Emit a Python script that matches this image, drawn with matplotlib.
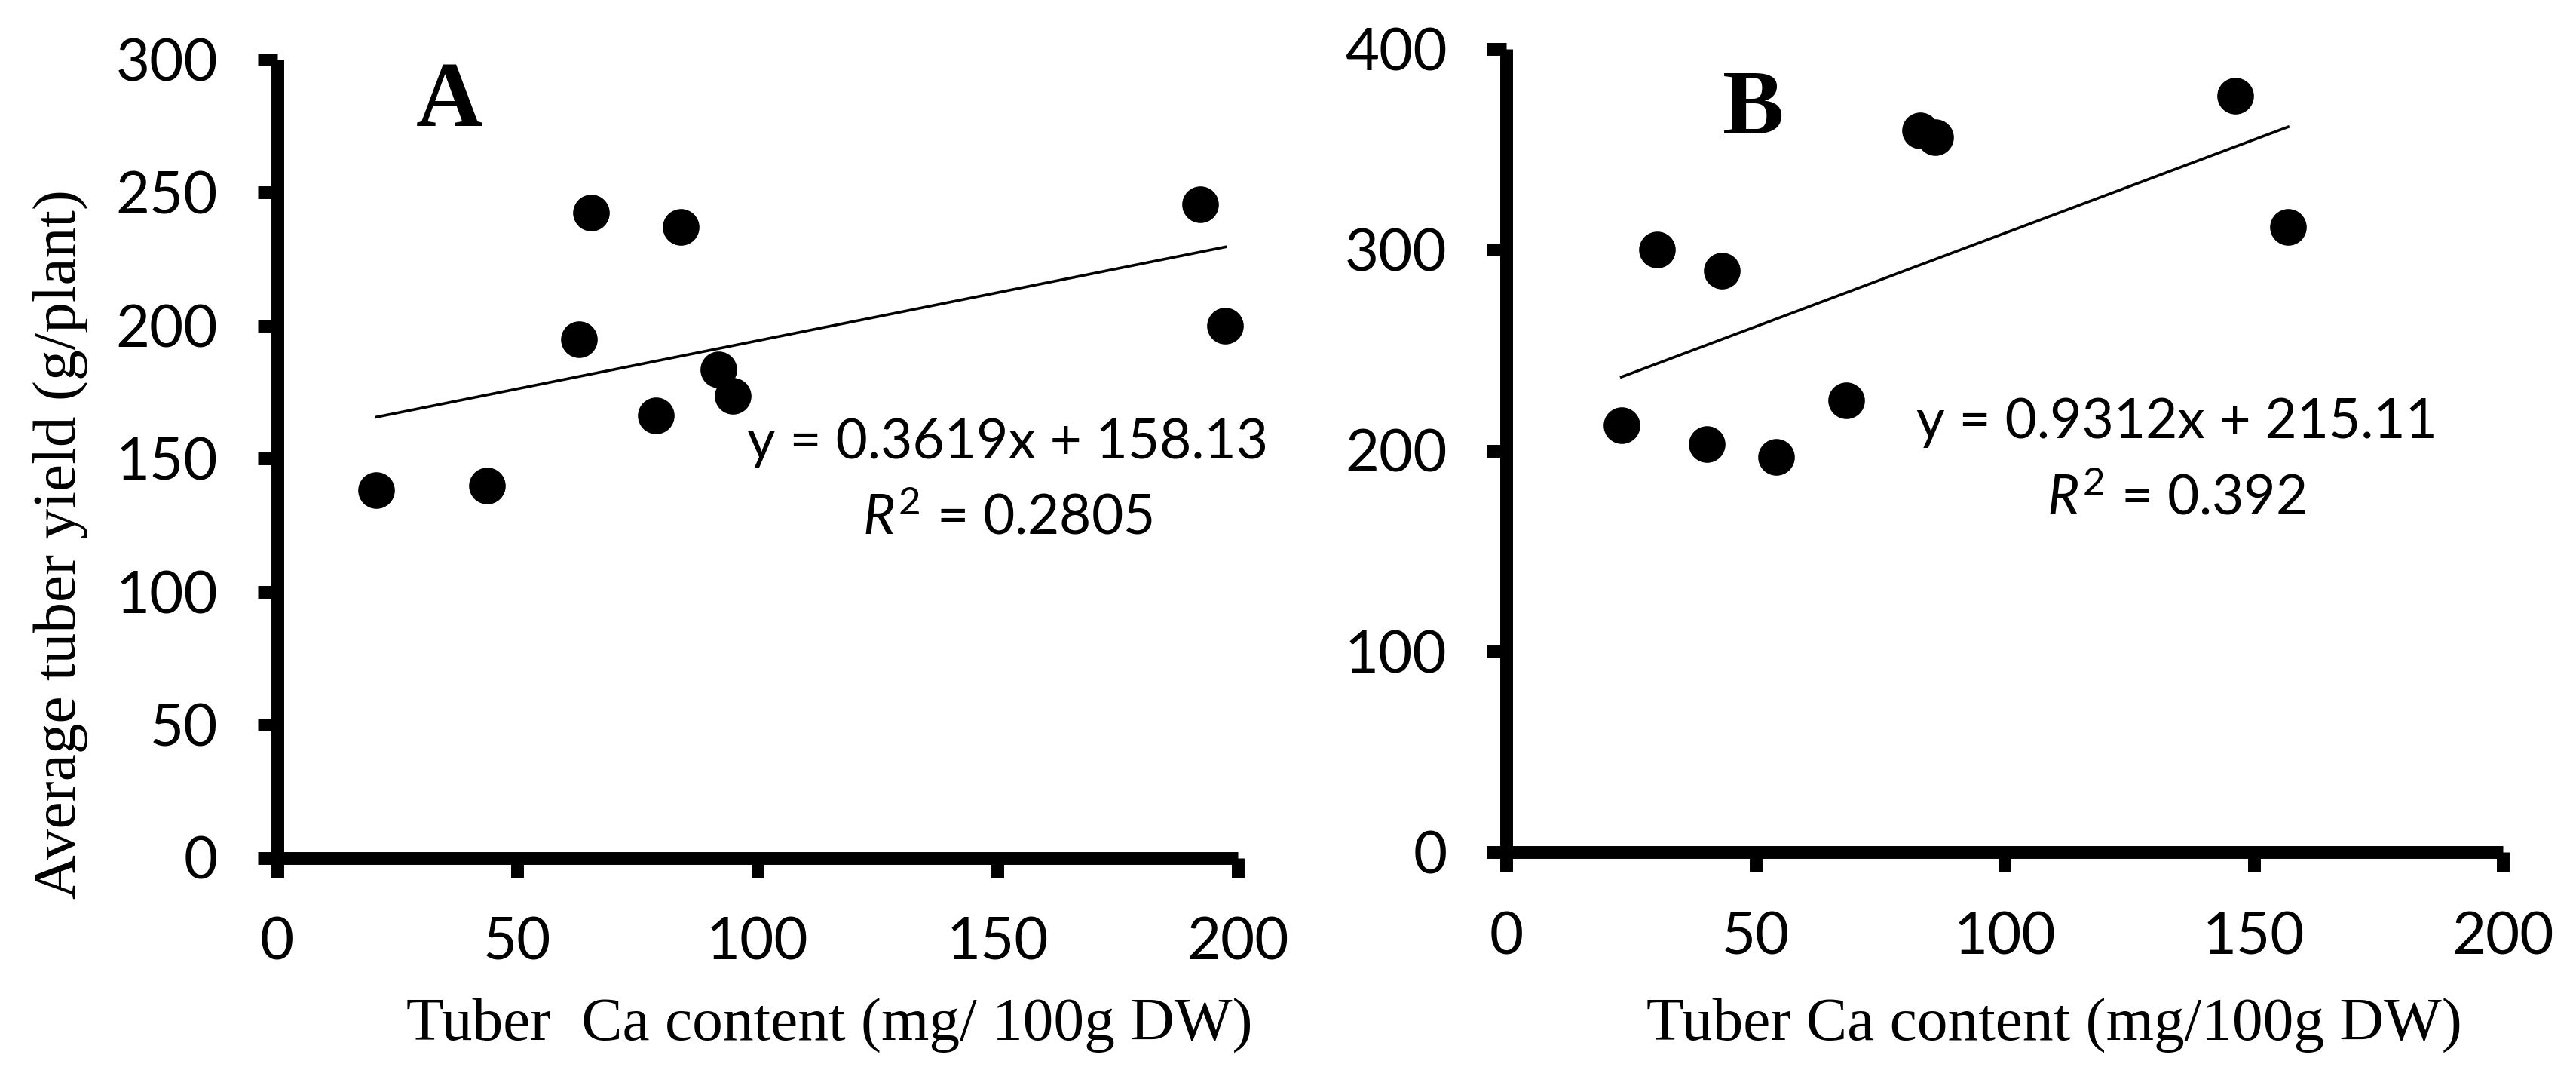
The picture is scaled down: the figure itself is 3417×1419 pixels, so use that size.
import numpy as np
import matplotlib
matplotlib.use("Agg")
import matplotlib.pyplot as plt

plt.rcParams['font.family'] = ['Lato', 'DejaVu Sans']
plt.rcParams['mathtext.fontset'] = 'custom'
plt.rcParams['mathtext.rm'] = 'Lato'
plt.rcParams['mathtext.it'] = 'Lato:italic'

# Panel A: tuber Ca content vs average tuber yield
ca_a = [20.7, 43.7, 62.8, 65.3, 78.9, 84.0, 91.9, 94.9, 192.1, 197.4]
yield_a = [138.3, 139.8, 194.9, 242.4, 166.1, 237.0, 183.5, 173.5, 245.5, 200.0]
slope_a, icpt_a = 0.3619, 158.13
eq_a = "y = 0.3619x + 158.13"
r2_a = "$R^2$ = 0.2805"

# Panel B
ca_b = [23.1, 30.2, 40.2, 43.2, 54.2, 68.3, 83.0, 86.1, 146.3, 156.9]
yield_b = [212.4, 300.0, 203.2, 289.5, 196.7, 225.0, 359.4, 356.0, 376.8, 311.3]
slope_b, icpt_b = 0.9312, 215.11
eq_b = "y = 0.9312x + 215.11"
r2_b = "$R^2$ = 0.392"

xticks = [0, 50, 100, 150, 200]
yticks_a = [0, 50, 100, 150, 200, 250, 300]
yticks_b = [0, 100, 200, 300, 400]

W, H = 3417, 1419
fig = plt.figure(figsize=(W / 200, H / 200), dpi=200)
fig.patch.set_facecolor('white')

ax_a = fig.add_axes([367.5 / W, 1 - 1137.5 / H, (1642 - 367.5) / W, (1137.5 - 79) / H])
ax_b = fig.add_axes([1998 / W, 1 - 1130 / H, (3320 - 1998) / W, (1130 - 65) / H])

panels = [
    (ax_a, ca_a, yield_a, slope_a, icpt_a, eq_a, r2_a, yticks_a, 300,
     'A', (35.9, 275.1), (152.0, 150.1, 121.7)),
    (ax_b, ca_b, yield_b, slope_b, icpt_b, eq_b, r2_b, yticks_b, 400,
     'B', (49.5, 357.9), (134.5, 206.2, 167.9)),
]

for ax, xs, ys, m, c, eq, r2, yt, ymax, tag, tag_pos, eq_pos in panels:
    ax.set_xlim(0, 200)
    ax.set_ylim(0, ymax)
    ax.set_xticks(xticks)
    ax.set_yticks(yt)
    for side in ['top', 'right']:
        ax.spines[side].set_visible(False)
    for side in ['left', 'bottom']:
        ax.spines[side].set_linewidth(6.1)
        ax.spines[side].set_capstyle('butt')
    ax.tick_params(direction='out', length=9.2, width=6.1, pad=19,
                   labelsize=28, color='black')

    # trendline over data range
    fx = np.array([min(xs), max(xs)])
    ax.plot(fx, m * fx + c, color='black', lw=1.3, zorder=2, clip_on=False)
    ax.plot(xs, ys, 'o', color='black', markersize=16.5, zorder=3, clip_on=False)

    ax.text(tag_pos[0], tag_pos[1], tag, family='Liberation Serif',
            fontweight='bold', fontsize=44, ha='center', va='baseline')
    ax.text(eq_pos[0], eq_pos[1], eq, fontsize=26.3, ha='center', va='baseline')
    ax.text(eq_pos[0], eq_pos[2], r2, fontsize=26.3, ha='center', va='baseline')

fig.text(80 / W, 1 - 722 / H, 'Average tuber yield (g/plant)', rotation=90,
         family='Liberation Serif', fontsize=29.3, ha='center', va='center')
fig.text(1100 / W, 1 - 1380 / H, 'Tuber  Ca content (mg/ 100g DW)',
         family='Liberation Serif', fontsize=29.3, ha='center', va='baseline')
fig.text(2725 / W, 1 - 1380 / H, 'Tuber Ca content (mg/100g DW)',
         family='Liberation Serif', fontsize=29.3, ha='center', va='baseline')

fig.savefig('out.png', dpi=200, facecolor='white')
